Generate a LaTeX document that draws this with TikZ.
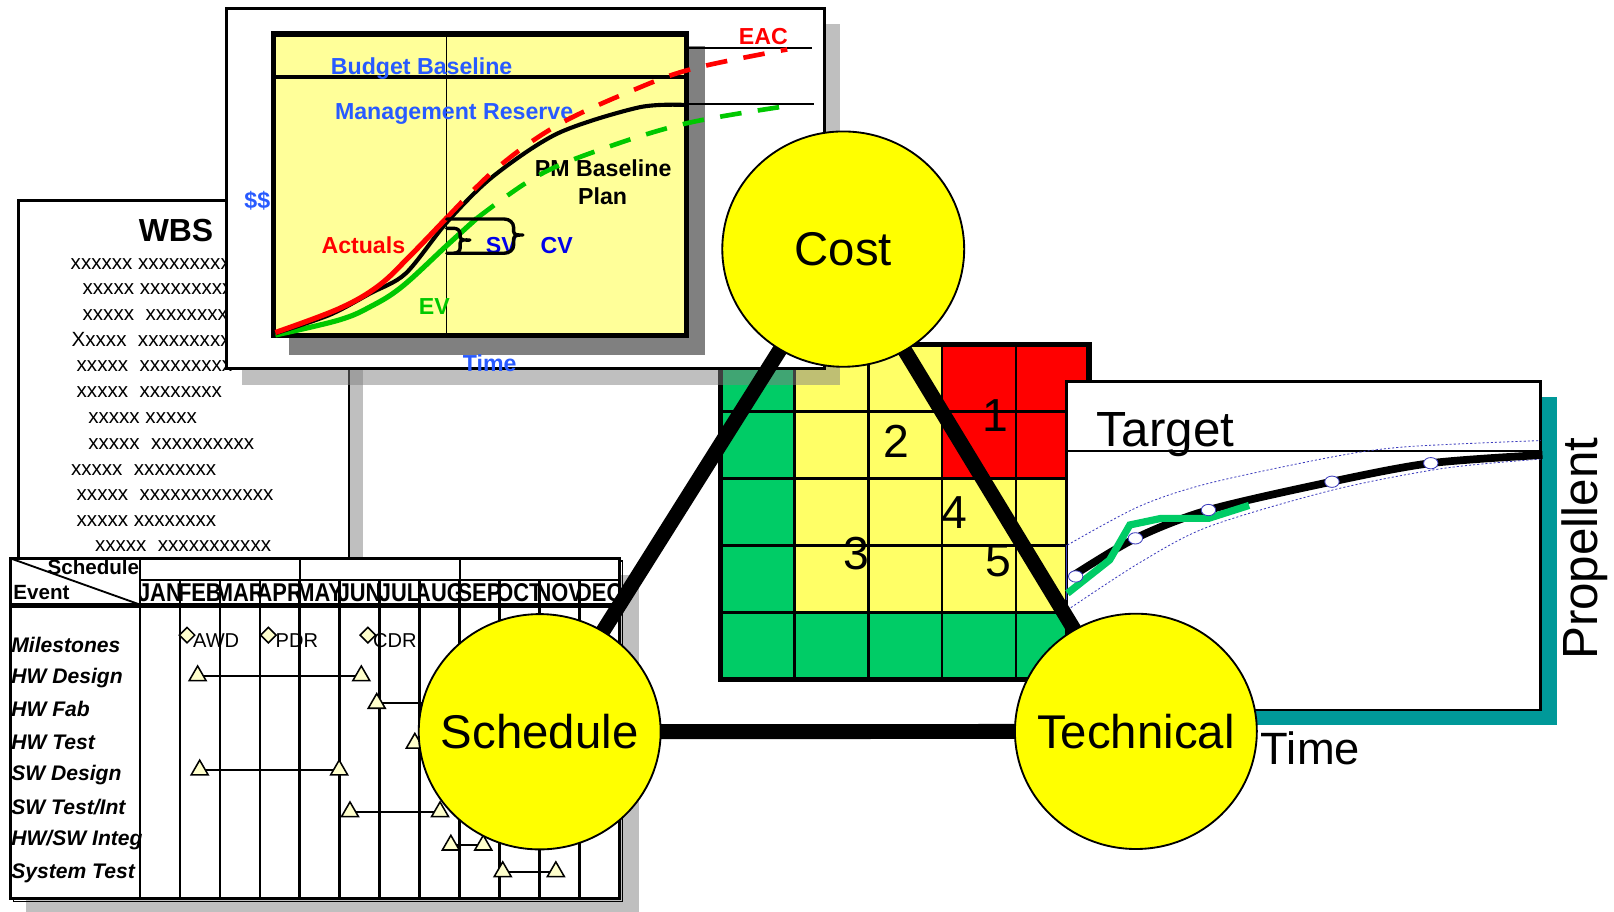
\documentclass[tikz,border=0pt]{standalone}
\usepackage{fontspec}
\setmainfont{Liberation Sans}
\newfontfamily\narrowfont[FakeStretch=0.85]{Liberation Sans}
\usetikzlibrary{shapes.geometric}

\definecolor{plotyellow}{RGB}{255,255,153}
\definecolor{cellyellow}{RGB}{255,255,102}
\definecolor{cellgreen}{RGB}{0,204,102}
\definecolor{cellred}{RGB}{255,0,0}
\definecolor{ballyellow}{RGB}{255,255,0}
\definecolor{labelblue}{RGB}{40,90,255}
\definecolor{varblue}{RGB}{0,0,235}
\definecolor{evgreen}{RGB}{0,200,0}
\definecolor{shadowteal}{RGB}{0,153,153}
\definecolor{markeryellow}{RGB}{255,255,204}
\definecolor{bandblue}{RGB}{60,60,190}
\definecolor{lightshade}{RGB}{191,191,191}
\definecolor{darkshade}{RGB}{128,128,128}

\newcommand\fsz[1]{\fontsize{#1}{#1}\selectfont}

\begin{document}
\begin{tikzpicture}[x=1pt,y=-1pt,
  every node/.style={inner sep=0pt,outer sep=0pt},
  sheet/.style={draw=black,line width=2.5pt,fill=white},
  curvelabel/.style={font=\fsz{22.5}\bfseries,anchor=base},
  wbsline/.style={font=\fsz{20},anchor=base west},
  eventlabel/.style={font=\fsz{20.5}\bfseries\itshape,anchor=base west},
  monthlabel/.style={font=\narrowfont\fsz{25}\bfseries,anchor=base},
  milestone/.style={diamond,draw=black,line width=1.5pt,fill=markeryellow,minimum width=15pt,minimum height=15pt},
  msname/.style={font=\fsz{19.5},anchor=base west},
  taskmark/.style={regular polygon,regular polygon sides=3,draw=black,line width=1.5pt,fill=markeryellow,minimum size=19pt},
  taskbar/.style={line width=2pt},
  riskdigit/.style={font=\fsz{45},anchor=base},
  pointmark/.style={ellipse,draw=bandblue,line width=0.8pt,fill=white,minimum width=14pt,minimum height=11pt},
  ball/.style={ellipse,draw=black,line width=1.8pt,fill=ballyellow,minimum width=235pt,minimum height=228.6pt},
  balltext/.style={font=\fsz{46}},
  link/.style={line width=14.5pt},
  band/.style={bandblue,line width=0.8pt,dash pattern=on 2pt off 2pt},
]
\useasboundingbox (0,0) rectangle (1568,886);
\fill[white] (0,0) rectangle (1568,886);

% ---------- WBS sheet
\fill[lightshade] (339,210) rectangle (353,560);
\draw[sheet] (18,195) rectangle (339,560);
\node[font=\fsz{31}\bfseries,anchor=base] (wbstitle) at (171,235) {WBS};
\foreach \n/\lx/\by/\words in {
  1/68.7/261.7/{xxxxxx xxxxxxxxx},
  2/80.3/286.2/{xxxxx xxxxxxxxx},
  3/80.3/311.2/{xxxxx~~xxxxxxxx},
  4/69.6/336.2/{Xxxxx~~xxxxxxxxx},
  5/74.5/361.2/{xxxxx~~xxxxxxxxx},
  6/74.5/386.2/{xxxxx~~xxxxxxxx},
  7/85.8/411.6/{xxxxx xxxxx},
  8/85.8/436.6/{xxxxx~~xxxxxxxxxx},
  9/69/461.8/{xxxxx~~xxxxxxxx},
  10/74.5/486.2/{xxxxx~~xxxxxxxxxxxxx},
  11/74.5/511.2/{xxxxx xxxxxxxx},
  12/92.3/536.2/{xxxxx~~xxxxxxxxxxx}}
  \node[wbsline] (wbsrow\n) at (\lx,\by) {\words};

% ---------- risk matrix
\fill[cellyellow] (772,335) rectangle (915,595);
\fill[cellyellow] (915,465) rectangle (1058,595);
\fill[cellred] (915,335) rectangle (1058,465);
\fill[cellgreen] (700,335) rectangle (772,660);
\fill[cellgreen] (700,595) rectangle (1058,660);
\foreach \x in {772,844,915,987} \draw[line width=2.5pt] (\x,335) -- (\x,660);
\foreach \y in {400,465,530,595} \draw[line width=2.5pt] (700,\y) -- (1058,\y);
\draw[line width=5pt] (700,335) rectangle (1058,660);
\node[riskdigit] (risk1) at (967,419) {1};
\node[riskdigit] (risk2) at (871,444) {2};
\node[riskdigit] (risk3) at (831.5,553) {3};
\node[riskdigit] (risk4) at (927,513) {4};
\node[riskdigit] (risk5) at (970,560) {5};

% ---------- cost / earned value sheet
\fill[darkshade,opacity=0.5] (235,23) rectangle (816,374);
\draw[sheet] (220,8) rectangle (801,358);
\fill[darkshade] (281,45) rectangle (685,345);
\fill[plotyellow] (266,33) rectangle (667,326);
\draw[line width=1.5pt] (433.8,33) -- (433.8,326);
\draw[line width=4pt] (266,75) -- (667,75);
\draw[line width=2pt] (667,47) -- (789,47);
\draw[line width=2pt] (667,101) -- (791,101);
\draw[line width=5pt] (266,33) rectangle (667,326);

\node[curvelabel,text=cellred] (eac) at (741.6,43.6) {EAC};
\node[curvelabel,text=labelblue] (budget) at (409.6,72.8) {Budget Baseline};
\node[curvelabel,text=labelblue] (reserve) at (441.2,115.8) {Management Reserve};
\node[curvelabel,text=labelblue] (dollars) at (250,202.3) {\$\$};
\node[curvelabel] (pmplan1) at (586,171.5) {PM Baseline};
\node[curvelabel] (pmplan2) at (585.5,199) {Plan};
\node[curvelabel,text=cellred] (actuals) at (353,246) {Actuals};
\node[curvelabel,text=varblue] (sv) at (487,246) {SV};
\node[curvelabel,text=varblue] (cv) at (540.8,246) {CV};
\node[curvelabel,text=evgreen] (ev) at (422,306) {EV};
\node[curvelabel,text=labelblue] (timecost) at (475.7,361) {Time};

% earned value (solid, then dashed forecast)
\draw[evgreen,line width=5pt] plot[smooth,tension=0.6] coordinates
  {(267.5,325.5) (329,311) (359.7,298) (390.5,278.5) (434.6,238) (463.3,212)};
\draw[evgreen,line width=4.5pt,dash pattern=on 21pt off 16pt] plot[smooth,tension=0.6] coordinates
  {(463.3,212) (521,171.6) (582.3,145.7) (666.9,119.8) (764.8,103)};
% baseline plan
\draw[line width=4pt] plot[smooth,tension=0.5] coordinates
  {(267.5,323.8) (320,306) (359.7,285) (394.2,265.6) (434.6,215.4) (478.7,171.6) (542,129.5) (620.8,104.3) (666.8,102)};
% actuals and estimate at completion
\draw[cellred,line width=5pt] plot[smooth,tension=0.6] coordinates
  {(267.5,323) (329,300) (367.3,278) (398,249) (434.6,211)};
\draw[cellred,line width=4.5pt,dash pattern=on 21pt off 16pt] plot[smooth,tension=0.6] coordinates
  {(434.6,211) (482.5,163.5) (542,121.4) (617,86.8) (674.5,66.4) (764.8,48)};

% variance brackets
\draw[line width=3.3pt,line join=round,line cap=round]
  (434,212.8) -- (490,212.8) to[out=0,in=90] (499,221) -- (499,225) to[out=-90,in=180] (508,228.3)
  to[out=180,in=90] (499,232) -- (499,238) to[out=-90,in=0] (490,246) -- (434,246);
\draw[line width=3.3pt,line join=round,line cap=round]
  (434,221.8) -- (441,221.8) to[out=0,in=90] (447,227) -- (447,230) to[out=-90,in=180] (456.5,233.2)
  to[out=180,in=90] (447,236) -- (447,241) to[out=-90,in=0] (441,246);

% ---------- schedule table
\fill[lightshade] (25,558.6) rectangle (621,886);
\draw[line width=1pt] (13,545) rectangle (605,876);
\draw[line width=2.5pt,fill=white] (10,542.4) rectangle (602,872.8);
\foreach \m [count=\k from 0] in {JAN,FEB,MAR,APR,MAY,JUN,JUL,AUG,SEP,OCT,NOV,DEC}{
  \begin{scope}
    \clip (136+\k*38.8,563.5) rectangle (174.8+\k*38.8,588.3);
    \node[monthlabel] (month\k) at (155.4+\k*38.8,584.6) {\m};
  \end{scope}
}
\draw[line width=2pt] (136,563.5) -- (602,563.5);
\foreach \x in {291.2,446.8} \draw[line width=2pt] (\x,542.4) -- (\x,563.5);
\foreach \k in {1,...,11} \draw[line width=2.5pt] (136+\k*38.8,563.5) -- (136+\k*38.8,872.8);
\draw[line width=2.5pt] (136,542.4) -- (136,872.8);
\draw[line width=5pt] (10,588.3) -- (602,588.3);
\draw[line width=1.8pt] (10,542.4) -- (135,587);
\draw[line width=2.5pt] (10,542.4) rectangle (602,872.8);
\node[font=\fsz{20}\bfseries,anchor=base] (hdschedule) at (90.7,557.7) {Schedule};
\node[font=\fsz{20}\bfseries,anchor=base west] (hdevent) at (13,582) {Event};

\node[eventlabel] (evmilestones) at (11,633.6) {Milestones};
\node[eventlabel] (evhwdesign) at (11,664) {HW Design};
\node[eventlabel] (evhwfab) at (11,696.5) {HW Fab};
\node[eventlabel] (evhwtest) at (11,728) {HW Test};
\node[eventlabel] (evswdesign) at (11,758.5) {SW Design};
\node[eventlabel] (evswtest) at (11,791) {SW Test/Int};
\node[eventlabel] (evinteg) at (11,821.5) {HW/SW Integ};
\node[eventlabel] (evsystest) at (11,853) {System Test};

\node[milestone] (awd) at (181.7,617) {};
\node[msname] (awdname) at (187.6,628.9) {AWD};
\node[milestone] (pdr) at (260.7,617) {};
\node[msname] (pdrname) at (267.8,628.9) {PDR};
\node[milestone] (cdr) at (357.4,617) {};
\node[msname] (cdrname) at (362.5,628.9) {CDR};

\foreach \id/\xa/\xb/\yy in {hwdesign/192/351/656.5, swdesign/194/329.5/748,
    swtest/340/427.5/788.6, integ/438/469.5/821, systest/488.4/540/846.8}{
  \node[taskmark] (\id-start) at (\xa,\yy) {};
  \node[taskmark] (\id-end) at (\xb,\yy) {};
  \draw[taskbar] (\id-start) -- (\id-end);
}
\node[taskmark] (hwfab-start) at (366,683.3) {};
\coordinate (hwfab-end) at (440,683.3);
\draw[taskbar] (hwfab-start) -- (hwfab-end);
\node[taskmark] (hwtest-start) at (403,722) {};
\coordinate (hwtest-end) at (460,722);
\draw[taskbar] (hwtest-start) -- (hwtest-end);

% ---------- technical performance sheet
\fill[shadowteal] (1051,385.4) rectangle (1512.5,704.4);
\draw[sheet] (1036,370.8) rectangle (1496.6,689.8);
\draw[line width=1.8pt] (1036,438) -- (1496.6,438);
\node[font=\fsz{48},anchor=base west] (target) at (1065.6,434) {Target};
\draw[band] plot[smooth] coordinates
  {(1037,529.5) (1106.6,492) (1174,469.6) (1295.4,443.7) (1366.6,434) (1496.6,428)};
\draw[band] plot[smooth] coordinates
  {(1037,592.6) (1106.6,547) (1174,511.7) (1295,476) (1402.3,455) (1496.6,446)};
\draw[bandblue,line width=1.2pt] (1036,529.5) -- (1036,583);
\draw[line width=7.5pt] plot[smooth] coordinates
  {(1040.7,560.3) (1103,523) (1174,495.5) (1293.6,468) (1389.8,450) (1498.5,442)};
\draw[cellgreen,line width=7pt] (1037,576.4) -- (1078,544) -- (1097.6,510) -- (1128,503.6) -- (1174,503.6) -- (1213.5,491);
\node[pointmark] (tp1) at (1045,560) {};
\node[pointmark] (tp2) at (1103,523) {};
\node[pointmark] (tp3) at (1174,495.5) {};
\node[pointmark] (tp4) at (1294,468) {};
\node[pointmark] (tp5) at (1390,450) {};
\node[font=\fsz{48},rotate=90] (propellent) at (1540,533) {Propellent};
\node[font=\fsz{44},anchor=base west] (timetech) at (1225,742.5) {Time};

% ---------- the triangle of cost, schedule and technical
\coordinate (costc) at (819.2,242);
\coordinate (schedc) at (524.3,710.9);
\coordinate (techc) at (1103.5,710.5);
\draw[link] (costc) -- (schedc);
\draw[link] (costc) -- (techc);
\draw[link] (schedc) -- (techc);
\node[ball] (cost) at (costc) {};
\node[balltext] (costlabel) at (costc) {Cost};
\node[ball] (schedule) at (schedc) {};
\node[balltext] (schedulelabel) at (schedc) {Schedule};
\node[ball] (technical) at (techc) {};
\node[balltext] (technicallabel) at (techc) {Technical};
\end{tikzpicture}
\end{document}
